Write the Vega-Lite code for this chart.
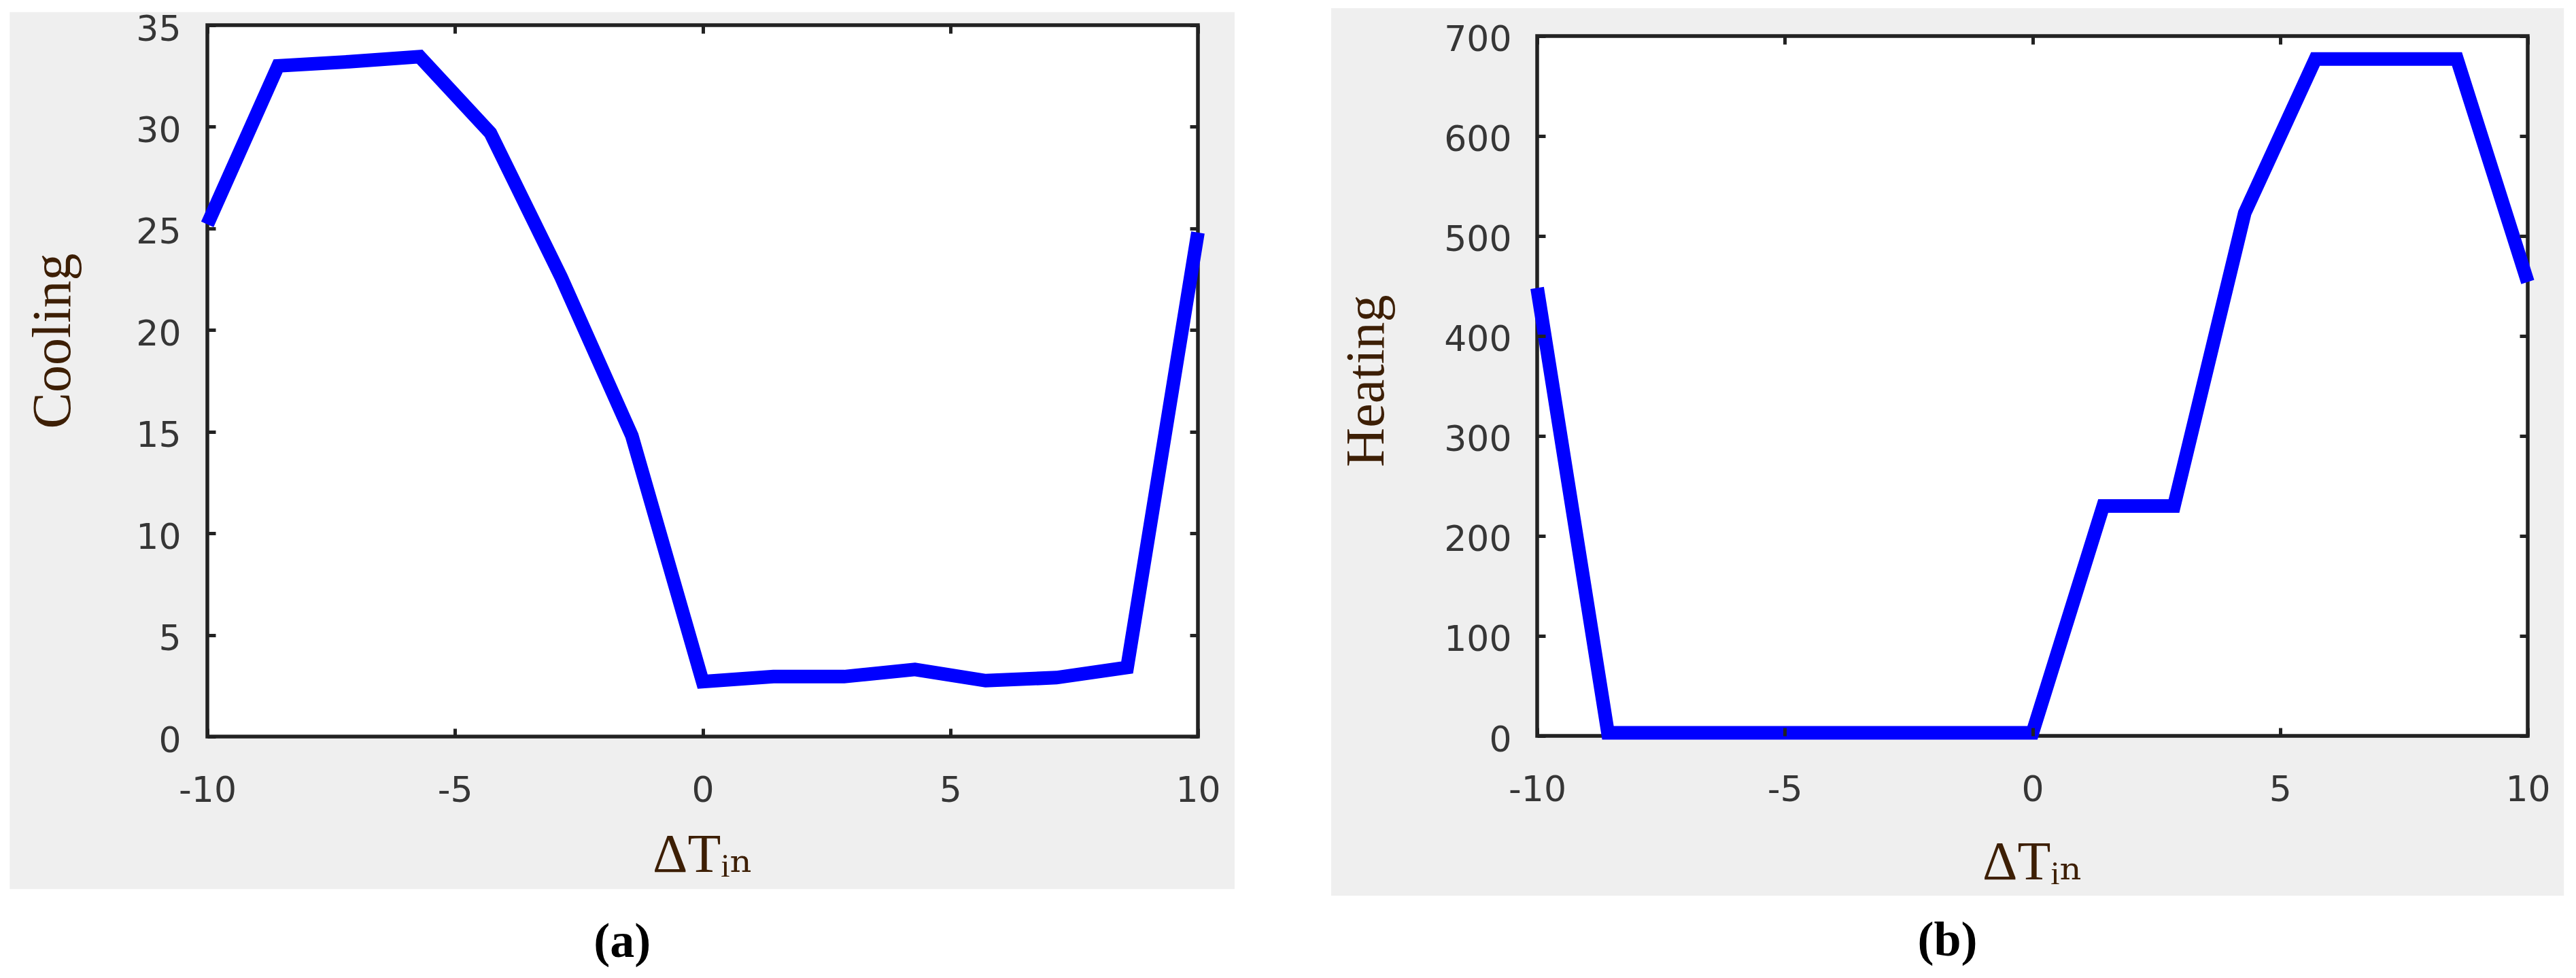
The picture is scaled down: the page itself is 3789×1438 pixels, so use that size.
{
  "$schema": "https://vega.github.io/schema/vega-lite/v6.json",
  "background": "white",
  "padding": {"left": 14, "top": 11, "right": 0, "bottom": 0},
  "spacing": 141,
  "config": {"view": {"stroke": null}},
  "datasets": {
    "cooling": [
      {"dT": -10, "value": 25.2},
      {"dT": -8.571, "value": 33.0},
      {"dT": -7.143, "value": 33.2},
      {"dT": -5.714, "value": 33.45},
      {"dT": -4.286, "value": 29.7},
      {"dT": -2.857, "value": 22.6},
      {"dT": -1.429, "value": 14.8},
      {"dT": 0, "value": 2.7},
      {"dT": 1.429, "value": 2.95},
      {"dT": 2.857, "value": 2.95},
      {"dT": 4.286, "value": 3.3},
      {"dT": 5.714, "value": 2.75},
      {"dT": 7.143, "value": 2.9},
      {"dT": 8.571, "value": 3.4},
      {"dT": 10, "value": 24.8}
    ],
    "heating": [
      {"dT": -10, "value": 448},
      {"dT": -8.571, "value": 3},
      {"dT": -7.143, "value": 3},
      {"dT": -5.714, "value": 3},
      {"dT": -4.286, "value": 3},
      {"dT": -2.857, "value": 3},
      {"dT": -1.429, "value": 3},
      {"dT": 0, "value": 3},
      {"dT": 1.429, "value": 230},
      {"dT": 2.857, "value": 230},
      {"dT": 4.286, "value": 523},
      {"dT": 5.714, "value": 677},
      {"dT": 7.143, "value": 677},
      {"dT": 8.571, "value": 677},
      {"dT": 10, "value": 454}
    ]
  },
  "hconcat": [
    {
      "width": 1457,
      "height": 1046,
      "title": {"text": "(a)", "orient": "bottom", "offset": 43, "font": "Liberation Serif", "fontSize": 72, "fontWeight": "bold", "color": "black", "anchor": "middle", "frame": "bounds", "baseline": "top"},
      "resolve": {"axis": {"x": "independent", "y": "independent"}},
      "layer": [
        {
          "data": {"values": [{}]},
          "mark": {"type": "rect", "color": "#efefef"},
          "encoding": {
            "x": {"datum": -13.99, "type": "quantitative", "scale": {"domain": [-10, 10], "nice": false, "zero": false}, "axis": null},
            "x2": {"datum": 10.74},
            "y": {"datum": -7.5, "type": "quantitative", "scale": {"domain": [0, 35], "nice": false, "zero": false}, "axis": null},
            "y2": {"datum": 35.64}
          }
        },
        {
          "data": {"values": [{}]},
          "mark": {"type": "rect", "fill": "white", "stroke": "#222222", "strokeWidth": 5.5},
          "encoding": {
            "x": {"datum": -10, "type": "quantitative", "scale": {"domain": [-10, 10], "nice": false, "zero": false},
              "axis": {"orient": "top", "values": [-10, -5, 0, 5, 10], "labels": false, "title": null, "grid": false, "domain": false, "ticks": true, "tickSize": -12, "tickWidth": 5, "tickColor": "#222222", "zindex": 1}},
            "x2": {"datum": 10},
            "y": {"datum": 0, "type": "quantitative", "scale": {"domain": [0, 35], "nice": false, "zero": false},
              "axis": {"orient": "right", "values": [0, 5, 10, 15, 20, 25, 30, 35], "labels": false, "title": null, "grid": false, "domain": false, "ticks": true, "tickSize": -12, "tickWidth": 5, "tickColor": "#222222", "zindex": 1}},
            "y2": {"datum": 35}
          }
        },
        {
          "data": {"name": "cooling"},
          "mark": {"type": "line", "color": "#0000ff", "strokeWidth": 20},
          "encoding": {
            "x": {"field": "dT", "type": "quantitative", "scale": {"domain": [-10, 10], "nice": false, "zero": false},
              "axis": {"orient": "bottom", "values": [-10, -5, 0, 5, 10], "labelExpr": "'' + datum.value", "title": "ΔTᵢₙ", "grid": false, "domain": false, "ticks": true, "tickSize": -12, "tickWidth": 5, "tickColor": "#222222", "labelFont": "DejaVu Sans", "labelFontSize": 52, "labelColor": "#363636", "labelPadding": 66, "labelFlush": false, "labelOverlap": false, "titleFont": "Liberation Serif, DejaVu Serif", "titleFontSize": 80, "titleFontWeight": "normal", "titleColor": "#3d1f05", "titlePadding": 30, "zindex": 1}},
            "y": {"field": "value", "type": "quantitative", "scale": {"domain": [0, 35], "nice": false, "zero": false},
              "axis": {"orient": "left", "values": [0, 5, 10, 15, 20, 25, 30, 35], "title": "Cooling", "titleY": 464, "grid": false, "domain": false, "ticks": true, "tickSize": -12, "tickWidth": 5, "tickColor": "#222222", "labelFont": "DejaVu Sans", "labelFontSize": 52, "labelColor": "#363636", "labelPadding": 51, "labelOffset": 6, "labelOverlap": false, "labelFlush": false, "titleFont": "Liberation Serif", "titleFontSize": 80, "titleFontWeight": "normal", "titleColor": "#3d1f05", "titlePadding": 80, "zindex": 1}}
          }
        }
      ]
    },
    {
      "width": 1457,
      "height": 1045,
      "title": {"text": "(b)", "orient": "bottom", "offset": 31, "font": "Liberation Serif", "fontSize": 72, "fontWeight": "bold", "color": "black", "anchor": "middle", "frame": "bounds", "baseline": "top"},
      "resolve": {"axis": {"x": "independent", "y": "independent"}},
      "layer": [
        {
          "data": {"values": [{}]},
          "mark": {"type": "rect", "color": "#efefef"},
          "encoding": {
            "x": {"datum": -14.16, "type": "quantitative", "scale": {"domain": [-10, 10], "nice": false, "zero": false}, "axis": null},
            "x2": {"datum": 10.73},
            "y": {"datum": -159.9, "type": "quantitative", "scale": {"domain": [0, 710.88], "nice": false, "zero": false}, "axis": null},
            "y2": {"datum": 727.9}
          }
        },
        {
          "data": {"values": [{}]},
          "mark": {"type": "rect", "fill": "white", "stroke": "#222222", "strokeWidth": 5.5},
          "encoding": {
            "x": {"datum": -10, "type": "quantitative", "scale": {"domain": [-10, 10], "nice": false, "zero": false},
              "axis": {"orient": "top", "offset": -16, "values": [-10, -5, 0, 5, 10], "labels": false, "title": null, "grid": false, "domain": false, "ticks": true, "tickSize": -12, "tickWidth": 5, "tickColor": "#222222", "zindex": 1}},
            "x2": {"datum": 10},
            "y": {"datum": 0, "type": "quantitative", "scale": {"domain": [0, 710.88], "nice": false, "zero": false},
              "axis": {"orient": "right", "values": [0, 100, 200, 300, 400, 500, 600, 700], "labels": false, "title": null, "grid": false, "domain": false, "ticks": true, "tickSize": -12, "tickWidth": 5, "tickColor": "#222222", "zindex": 1}},
            "y2": {"datum": 700}
          }
        },
        {
          "data": {"name": "heating"},
          "mark": {"type": "line", "color": "#0000ff", "strokeWidth": 20},
          "encoding": {
            "x": {"field": "dT", "type": "quantitative", "scale": {"domain": [-10, 10], "nice": false, "zero": false},
              "axis": {"orient": "bottom", "values": [-10, -5, 0, 5, 10], "labelExpr": "'' + datum.value", "title": "ΔTᵢₙ", "grid": false, "domain": false, "ticks": true, "tickSize": -12, "tickWidth": 5, "tickColor": "#222222", "labelFont": "DejaVu Sans", "labelFontSize": 52, "labelColor": "#363636", "labelPadding": 66, "labelFlush": false, "labelOverlap": false, "titleFont": "Liberation Serif, DejaVu Serif", "titleFontSize": 80, "titleFontWeight": "normal", "titleColor": "#3d1f05", "titlePadding": 42, "zindex": 1}},
            "y": {"field": "value", "type": "quantitative", "scale": {"domain": [0, 710.88], "nice": false, "zero": false},
              "axis": {"orient": "left", "values": [0, 100, 200, 300, 400, 500, 600, 700], "title": "Heating", "grid": false, "domain": false, "ticks": true, "tickSize": -12, "tickWidth": 5, "tickColor": "#222222", "labelFont": "DejaVu Sans", "labelFontSize": 52, "labelColor": "#363636", "labelPadding": 50, "labelOffset": 6, "labelOverlap": false, "labelFlush": false, "titleFont": "Liberation Serif", "titleFontSize": 80, "titleFontWeight": "normal", "titleColor": "#3d1f05", "titlePadding": 72, "zindex": 1}}
          }
        }
      ]
    }
  ]
}
